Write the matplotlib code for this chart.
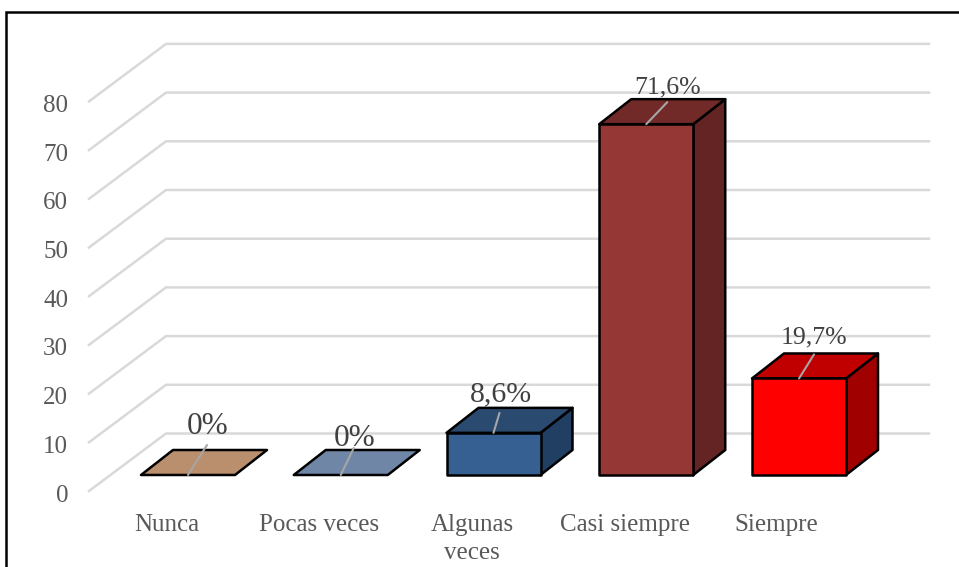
import matplotlib
matplotlib.use("Agg")
import matplotlib.pyplot as plt
from matplotlib.lines import Line2D
from matplotlib.patches import Polygon, Rectangle

W, H = 959, 567
categories = ["Nunca", "Pocas veces", "Algunas\nveces", "Casi siempre", "Siempre"]
values = [0, 0, 8.6, 71.6, 19.7]
value_labels = ["0%", "0%", "8,6%", "71,6%", "19,7%"]
y_ticks = [0, 10, 20, 30, 40, 50, 60, 70, 80]

front_colors = ["#B98F6E", "#7086A6", "#376092", "#953735", "#FF0000"]
top_colors = ["#B98F6E", "#7086A6", "#2A4A70", "#722A28", "#C00000"]
side_colors = ["#8A6A50", "#536480", "#213F62", "#632423", "#A00000"]
label_sizes = [22.5, 22.5, 21.5, 18.5, 18.5]
# offsets in pixels from the top-centre of each bar
label_offsets = [(20, 49), (14, 37), (7, 38), (21, 37), (15, 41)]
leader_offsets = [(19, 30), (13, 27), (6, 20), (21, 22), (15, 24)]

plt.rcParams["font.family"] = ["Liberation Serif", "DejaVu Serif"]
fig = plt.figure(figsize=(W / 100, H / 100), dpi=100)

# Scale used by the walls: one category step = 152.75 px, one unit = 4.87 px
X0, DX = 188.0, 152.75
GRID_Y0, GRID_SCALE = 491.0, 4.87
BAR_Y0, BAR_SCALE = 475.0, 4.90


def overlay(y0, scale):
    ax = fig.add_axes([0, 0, 1, 1])
    ax.set_xlim(-X0 / DX, (W - X0) / DX)
    ax.set_ylim((y0 - H) / scale, y0 / scale)
    ax.axis("off")
    ax.patch.set_alpha(0)
    return ax


ax_grid = overlay(GRID_Y0, GRID_SCALE)
ax_bars = overlay(BAR_Y0, BAR_SCALE)

# Floor-to-wall gridlines: front edge, back corner, right end
x_front = (89 - X0) / DX
x_back = (166 - X0) / DX
x_end = (929 - X0) / DX
rise = 57.5 / GRID_SCALE
for t in y_ticks:
    ax_grid.plot([x_front, x_back, x_end], [t, t + rise, t + rise],
                 color="#D9D9D9", lw=1.8, solid_joinstyle="miter", zorder=1)
    ax_grid.text((68 - X0) / DX, t - 4.5 / GRID_SCALE, str(t), ha="right", va="center",
                 fontsize=18, color="#595959")

# Box bars: front face, top and right-hand side in oblique projection
half = 47.0 / DX
dx = 32.0 / DX
dy = 25.0 / BAR_SCALE
for i, v in enumerate(values):
    l, r = i - half, i + half
    edge = dict(edgecolor="black", linewidth=1.8, joinstyle="round")
    if v > 0:
        ax_bars.add_patch(Polygon([(r, 0), (r + dx, dy), (r + dx, v + dy), (r, v)],
                                  facecolor=side_colors[i], zorder=3, **edge))
        ax_bars.add_patch(Rectangle((l, 0), r - l, v, facecolor=front_colors[i], zorder=4, **edge))
    ax_bars.add_patch(Polygon([(l, v), (r, v), (r + dx, v + dy), (l + dx, v + dy)],
                              facecolor=top_colors[i], zorder=3, **edge))
    # Leader from the bar top towards its value label
    ax_bars.annotate("", xy=(i, v), xycoords="data",
                     xytext=leader_offsets[i], textcoords="offset pixels",
                     arrowprops=dict(arrowstyle="-", color="#A6A6A6", lw=1.5,
                                     shrinkA=0, shrinkB=0),
                     zorder=6)
    ax_bars.annotate(value_labels[i], xy=(i, v), xycoords="data",
                     xytext=label_offsets[i], textcoords="offset pixels",
                     ha="center", va="center", fontsize=label_sizes[i],
                     color="#404040", zorder=7)

# Category labels below the floor
label_x = [167, 319, 472, 625, 776]
for name, px in zip(categories, label_x):
    ax_bars.text((px - X0) / DX, (BAR_Y0 - 514) / BAR_SCALE, name, ha="center", va="top",
                 fontsize=18, color="#595959", linespacing=1.35)

# Frame: top rule and left rule only
fig.add_artist(Line2D([6 / W, 6 / W, 1], [0, (H - 12) / H, (H - 12) / H],
                      transform=fig.transFigure, color="black", lw=1.8,
                      solid_joinstyle="miter"))

fig.savefig("out.png", dpi=100)
